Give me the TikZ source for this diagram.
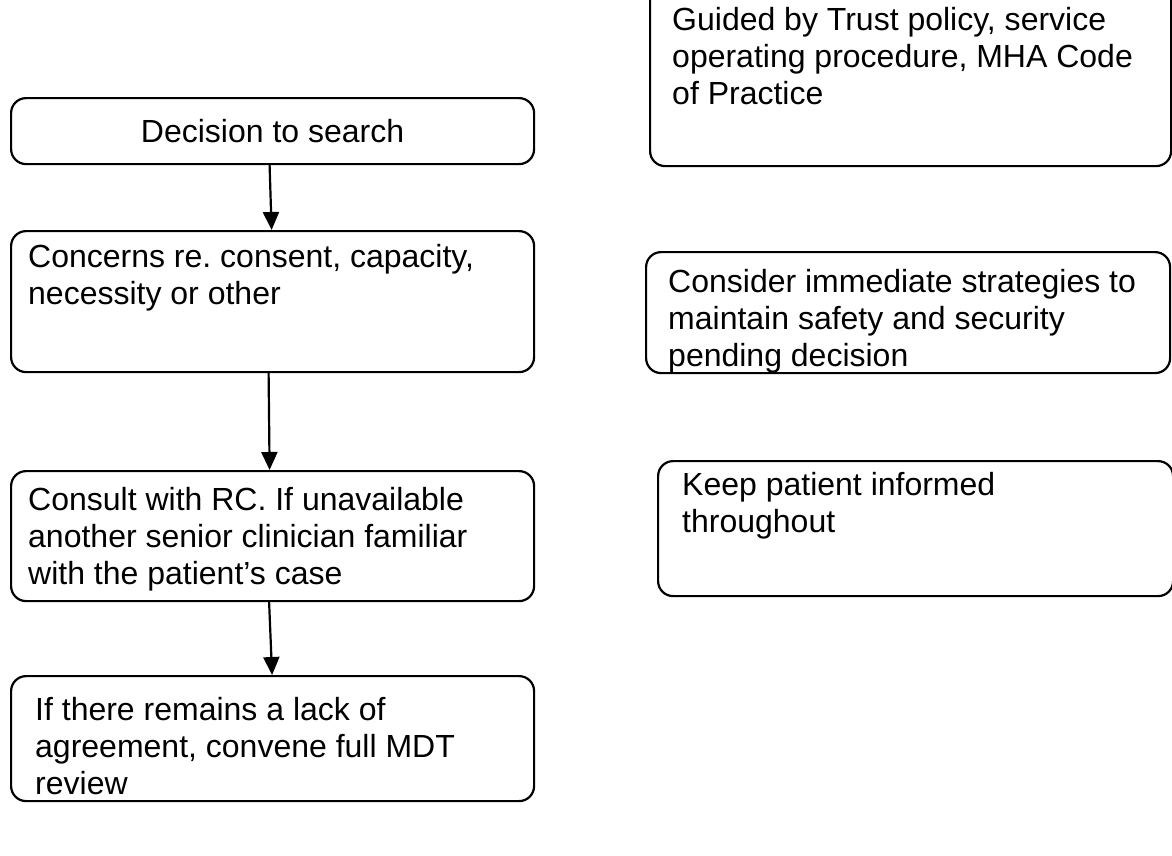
\documentclass[tikz,border=0pt]{standalone}
\usepackage{fontspec}
\setmainfont{Liberation Sans}
\frenchspacing
\usetikzlibrary{arrows.meta, positioning}

\tikzset{
  stepbox/.style={draw, line width=2.2pt, rounded corners=15pt, anchor=north west, inner sep=0pt},
  steptext/.style={anchor=north west, align=left, inner sep=0pt, font=\fontsize{32}{37}\selectfont},
  flow/.style={-{Triangle[length=18pt,width=16pt]}, line width=2.2pt}
}

\begin{document}
\begin{tikzpicture}[x=1pt, y=-1pt]
        \useasboundingbox (0,0) rectangle (1172,855);
        % Left column
        \node[stepbox, minimum width=523pt, minimum height=66pt, font=\fontsize{32}{37}\selectfont] (decide) at (10,97) {Decision to search};
        \node[stepbox, minimum width=523pt, minimum height=141pt] (concern) at (10,230) {};
        \node[steptext] (concernT) at (28,244) {Concerns re. consent, capacity,\\necessity or other};
        \node[stepbox, minimum width=523pt, minimum height=130pt] (consult) at (10,470) {};
        \node[steptext] (consultT) at (28,487) {Consult with RC. If unavailable\\another senior clinician familiar\\with the patient’s case};
        \node[stepbox, minimum width=523pt, minimum height=125pt] (review) at (10,675) {};
        \node[steptext] (reviewT) at (35,697) {If there remains a lack of\\agreement, convene full MDT\\review};
        % Right column
        \node[stepbox, minimum width=521pt, minimum height=205pt] (policy) at (649,-40) {};
        \node[steptext] (policyT) at (672,7) {Guided by Trust policy, service\\operating procedure, MHA Code\\of Practice};
        \node[stepbox, minimum width=524pt, minimum height=121pt] (safety) at (645,251) {};
        \node[steptext] (safetyT) at (668,269) {Consider immediate strategies to\\maintain safety and security\\pending decision};
        \node[stepbox, minimum width=515pt, minimum height=135pt] (inform) at (657,460) {};
        \node[steptext] (informT) at (682,472) {Keep patient informed\\throughout};
        % Arrows
        \draw[flow] ([xshift=-3pt]decide.south) -- ([xshift=-1pt]concern.north);
        \draw[flow] ([xshift=-4pt]concern.south) -- ([xshift=-3pt]consult.north);
        \draw[flow] ([xshift=-3.5pt]consult.south) -- ([xshift=-0.5pt]review.north);
\end{tikzpicture}
\end{document}
